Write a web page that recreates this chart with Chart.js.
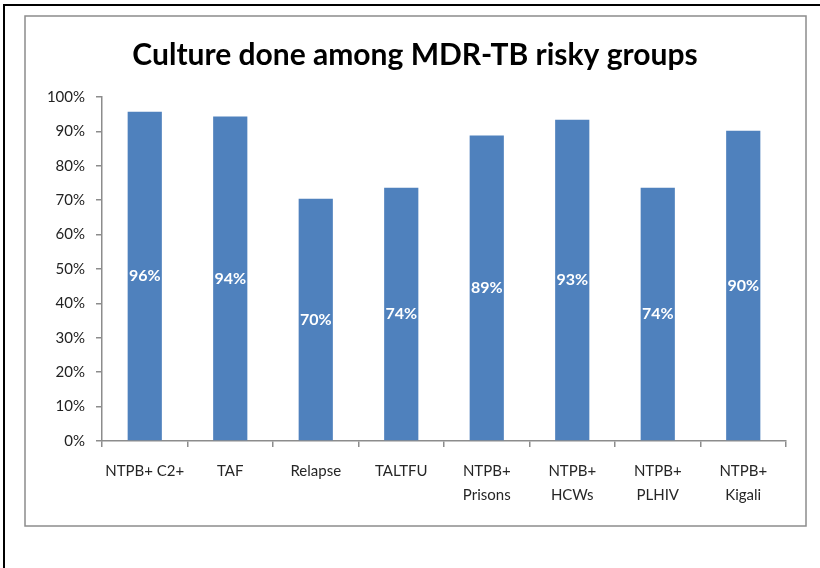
<!DOCTYPE html>
<html>
<head>
<meta charset="utf-8">
<script src="https://cdn.jsdelivr.net/npm/chart.js@4"></script>
<style>
html,body{margin:0;padding:0;background:#fff;}
#wrap{width:820px;height:568px;position:relative;}
</style>
</head>
<body>
<div id="wrap"><canvas id="c" width="820" height="568"></canvas></div>
<script>
const categories = [["NTPB+ C2+"], ["TAF"], ["Relapse"], ["TALTFU"], ["NTPB+", "Prisons"], ["NTPB+", "HCWs"], ["NTPB+", "PLHIV"], ["NTPB+", "Kigali"]];
const cultureDone = [95.7, 94.3, 70.4, 73.6, 88.8, 93.4, 73.6, 90.2];
const yTicks = [0, 10, 20, 30, 40, 50, 60, 70, 80, 90, 100];
const chartTitle = "Culture done among MDR-TB risky groups";

const FONT = "Lato, 'Open Sans', sans-serif";

const framePlugin = {
  id: 'frame',
  beforeDraw(chart) {
    const ctx = chart.ctx;
    ctx.save();
    ctx.fillStyle = '#fff';
    ctx.fillRect(0, 0, chart.width, chart.height);
    ctx.strokeStyle = '#000';
    ctx.lineWidth = 2;
    ctx.beginPath();
    ctx.moveTo(4, 568);
    ctx.lineTo(4, 5);
    ctx.lineTo(820, 5);
    ctx.stroke();
    ctx.strokeStyle = '#8c8c8c';
    ctx.lineWidth = 1.5;
    ctx.strokeRect(25, 16, 781, 510);
    ctx.restore();
  }
};

const labelPlugin = {
  id: 'barLabels',
  afterDatasetsDraw(chart) {
    const ctx = chart.ctx;
    const meta = chart.getDatasetMeta(0);
    ctx.save();
    ctx.fillStyle = '#fff';
    ctx.font = "bold 16px " + FONT;
    ctx.textAlign = 'center';
    ctx.textBaseline = 'middle';
    meta.data.forEach((el, i) => {
      const v = chart.data.datasets[0].data[i];
      ctx.fillText(Math.round(v) + '%', el.x, (el.y + el.base) / 2);
    });
    ctx.restore();
  }
};

new Chart(document.getElementById('c'), {
  type: 'bar',
  data: {
    labels: categories,
    datasets: [{
      data: cultureDone,
      backgroundColor: '#4F81BD',
      borderWidth: 0,
      barPercentage: 0.4,
      categoryPercentage: 1.0
    }]
  },
  options: {
    responsive: false,
    animation: false,
    devicePixelRatio: 1,
    layout: { padding: { left: 44, right: 34, top: 0, bottom: 47 } },
    plugins: {
      legend: { display: false },
      tooltip: { enabled: false },
      title: {
        display: true,
        text: chartTitle,
        color: '#000',
        font: { family: FONT, size: 30, weight: 'bold', lineHeight: 1.2 },
        padding: { top: 37, bottom: 24 }
      }
    },
    scales: {
      x: {
        grid: { display: true, drawOnChartArea: false, drawTicks: true, tickLength: 6, color: '#8c8c8c', lineWidth: 1.5 },
        border: { display: true, color: '#8c8c8c', width: 1.5 },
        ticks: { color: '#262626', font: { family: FONT, size: 15, lineHeight: 1.6 }, padding: 12, maxRotation: 0, autoSkip: false },
        afterFit(s) { s.height = 80; }
      },
      y: {
        min: 0, max: 100,
        afterBuildTicks(s) { s.ticks = yTicks.map(v => ({ value: v })); },
        grid: { display: true, drawOnChartArea: false, drawTicks: true, tickLength: 6, color: '#8c8c8c', lineWidth: 1.5 },
        border: { display: true, color: '#8c8c8c', width: 1.5 },
        ticks: { color: '#222', font: { family: FONT, size: 15 }, padding: 11, callback: v => v + '%' },
        afterFit(s) { s.width = 58; }
      }
    }
  },
  plugins: [framePlugin, labelPlugin]
});
</script>
</body>
</html>
